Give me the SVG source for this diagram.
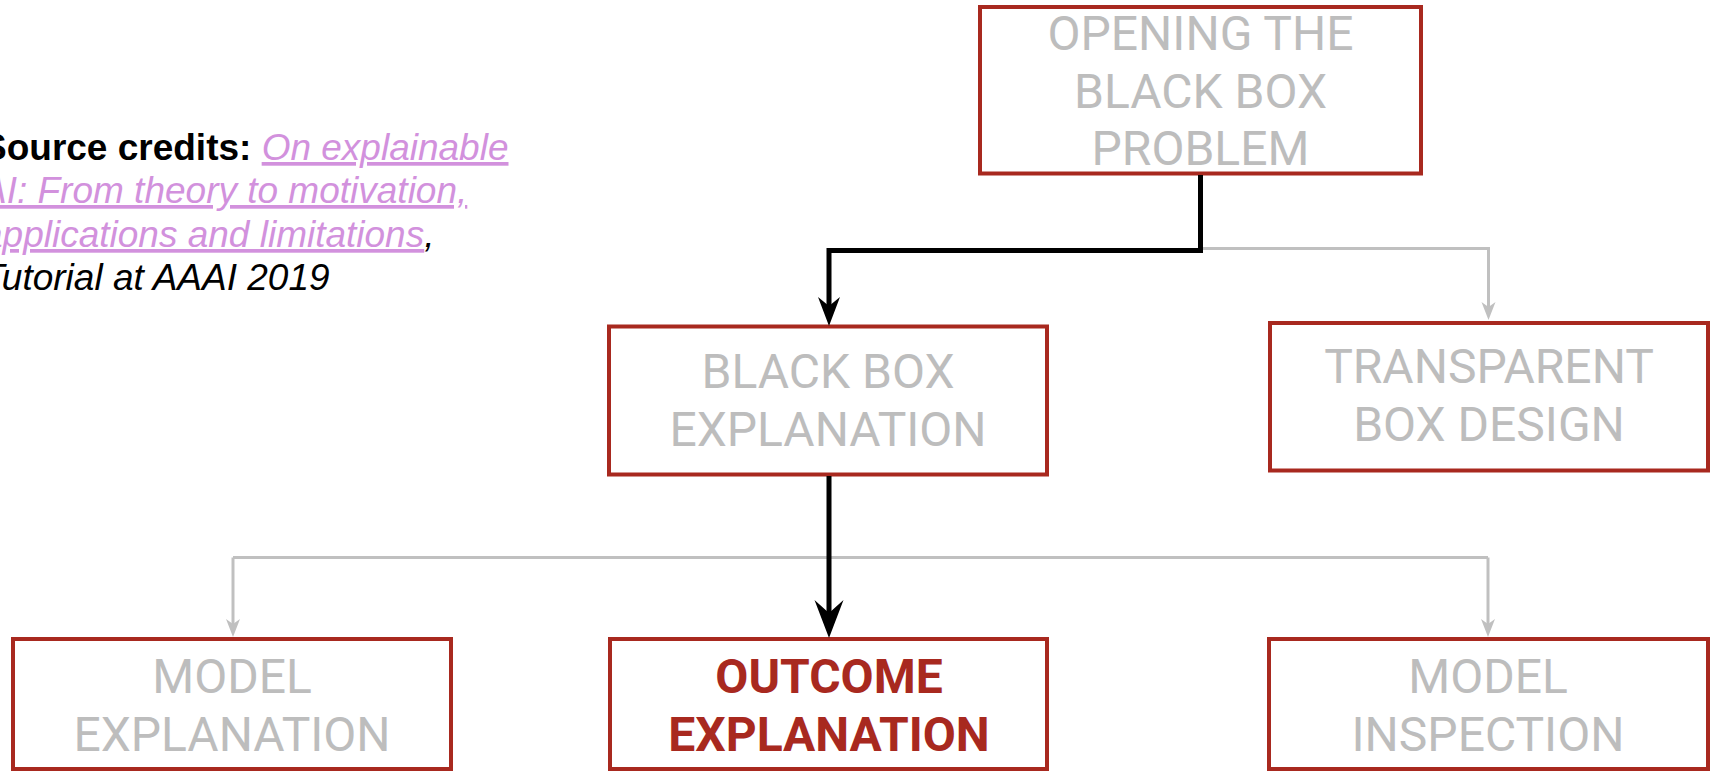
<svg xmlns="http://www.w3.org/2000/svg" width="1711" height="771" viewBox="0 0 1711 771">
<style>
.box{fill:#ffffff;stroke:#a8291f;stroke-width:4}
.lbl{font-family:Roboto,"Liberation Sans",sans-serif;font-size:48px;fill:#bdbdbd;text-anchor:middle}
.hl{font-weight:bold;fill:#a8291f}
.blk{fill:none;stroke:#000000;stroke-width:5}
.gry{fill:none;stroke:#c0c0c0;stroke-width:3}
.cred{font-family:"Liberation Sans",Arial,sans-serif;font-size:37px;fill:#000000}
.lnk{fill:#d291dd;text-decoration:underline}
</style>
<defs>
<marker id="ahBlackA" markerUnits="userSpaceOnUse" markerWidth="29" markerHeight="22" refX="9" refY="11" orient="auto" overflow="visible">
<path d="M0,0 L29,11 L0,22 L9,11 Z" fill="#000000"/>
</marker>
<marker id="ahBlackB" markerUnits="userSpaceOnUse" markerWidth="38" markerHeight="29" refX="13" refY="14.5" orient="auto" overflow="visible">
<path d="M0,0 L38,14.5 L0,29 L13,14.5 Z" fill="#000000"/>
</marker>
<marker id="ahGray" markerUnits="userSpaceOnUse" markerWidth="18" markerHeight="14" refX="5" refY="7" orient="auto" overflow="visible">
<path d="M0,0 L18,7 L0,14 L5,7 Z" fill="#c0c0c0"/>
</marker>
</defs>

<g id="credits" class="cred">
<text x="-18" y="160"><tspan font-weight="bold">Source credits: </tspan><tspan class="lnk" font-style="italic">On explainable</tspan></text>
<text x="-18" y="203" font-style="italic"><tspan class="lnk">AI: From theory to motivation,</tspan></text>
<text x="-18" y="247" font-style="italic"><tspan class="lnk">applications and limitations</tspan>,</text>
<text x="-18" y="290" font-style="italic">Tutorial at AAAI 2019</text>
</g>

<g id="node-opening">
<rect class="box" x="980" y="7" width="441" height="166.5"/>
<text class="lbl" x="1200.5" y="50">OPENING THE</text>
<text class="lbl" x="1200.5" y="108">BLACK BOX</text>
<text class="lbl" x="1200.5" y="165">PROBLEM</text>
</g>

<g id="node-blackbox">
<rect class="box" x="609" y="326.5" width="438" height="148"/>
<text class="lbl" x="828" y="388">BLACK BOX</text>
<text class="lbl" x="828" y="446">EXPLANATION</text>
</g>

<g id="node-transparent">
<rect class="box" x="1270" y="323" width="438" height="147.5"/>
<text class="lbl" x="1489" y="383">TRANSPARENT</text>
<text class="lbl" x="1489" y="441">BOX DESIGN</text>
</g>

<g id="node-model-explanation">
<rect class="box" x="13" y="639" width="438" height="130"/>
<text class="lbl" x="232" y="693">MODEL</text>
<text class="lbl" x="232" y="751">EXPLANATION</text>
</g>

<g id="node-outcome-explanation">
<rect class="box" x="610" y="639" width="437" height="130"/>
<text class="lbl hl" x="829" y="693">OUTCOME</text>
<text class="lbl hl" x="829" y="751">EXPLANATION</text>
</g>

<g id="node-model-inspection">
<rect class="box" x="1269" y="639" width="439" height="130"/>
<text class="lbl" x="1488" y="693">MODEL</text>
<text class="lbl" x="1488" y="751">INSPECTION</text>
</g>

<g id="connectors">
<path class="gry" d="M1202,248.5 H1488.5 V307" marker-end="url(#ahGray)"/>
<path class="blk" d="M1200.5,175 V250.5 H829 V306" marker-end="url(#ahBlackA)"/>
<path class="gry" d="M233,557.5 H1488"/>
<path class="gry" d="M233,557.5 V624" marker-end="url(#ahGray)"/>
<path class="gry" d="M1488,557.5 V624" marker-end="url(#ahGray)"/>
<path class="blk" d="M829,476 V613" marker-end="url(#ahBlackB)"/>
</g>
</svg>
